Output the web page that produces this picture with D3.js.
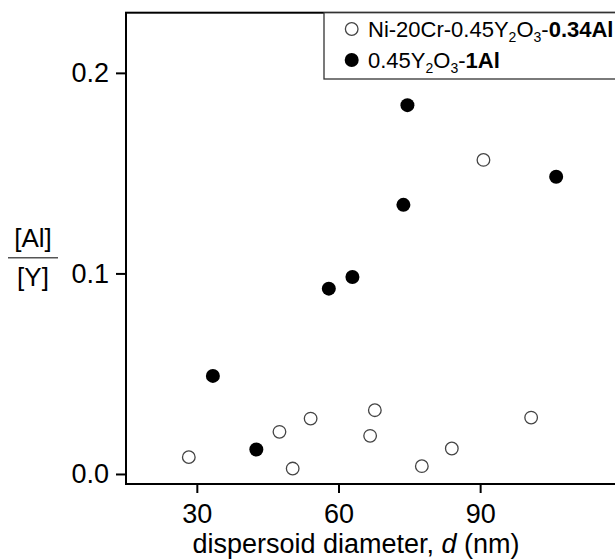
<!DOCTYPE html>
<html>
<head>
<meta charset="utf-8">
<script src="https://cdn.jsdelivr.net/npm/d3@7"></script>
<style>
    body { margin: 0; background: #fff; }
    text { font-family: "Liberation Sans", Arial, sans-serif; fill: #000; }
</style>
</head>
<body>
<script>
// Al/Y ratio against dispersoid diameter, two alloys

// open circles: Ni-20Cr-0.45Y2O3-0.34Al
var openD     = [28.3, 47.5, 50.3, 54.1, 66.7, 67.7, 77.65, 84.0, 90.7, 100.8];
var openRatio = [0.0084, 0.021, 0.0027, 0.0276, 0.019, 0.0318, 0.0039, 0.0127, 0.1566, 0.0281];

// filled circles: 0.45Y2O3-1Al
var fullD     = [33.4, 42.6, 57.95, 62.95, 73.75, 74.6, 106.1];
var fullRatio = [0.0489, 0.0122, 0.0924, 0.0982, 0.1342, 0.1839, 0.1482];

var xTicks = [30, 60, 90];
var yTicks = [0.0, 0.1, 0.2];

var width = 615,
    height = 560;

var svg = d3.select("body").append("svg")
    .attr("width", width)
    .attr("height", height);

// plot area runs off the right edge of the picture
var x = d3.scaleLinear().domain([15, 120]).range([126, 621.8]);
var y = d3.scaleLinear().domain([-0.005, 0.23]).range([484, 12.7]);

var xAxis = d3.axisBottom(x).tickValues(xTicks).tickSize(9).tickPadding(11)
    .tickFormat(d3.format("d"));
var yAxis = d3.axisLeft(y).tickValues(yTicks).tickSize(10).tickPadding(7)
    .tickFormat(d3.format(".1f"));

var gx = svg.append("g")
    .attr("transform", "translate(0," + y.range()[0] + ")")
    .call(xAxis);
var gy = svg.append("g")
    .attr("transform", "translate(" + x.range()[0] + ",0)")
    .call(yAxis);

[gx, gy].forEach(function(g) {
    g.select(".domain").remove();
    g.selectAll(".tick line").style("stroke", "#000").style("stroke-width", "2px");
    g.selectAll(".tick text")
        .style("font-size", "27px")
        .style("font-family", "'Liberation Sans', Arial, sans-serif")
        .attr("fill", "#000");
});

// frame: left, top, bottom (right side is cut off)
svg.append("rect")
    .attr("x", x.range()[0])
    .attr("y", y.range()[1])
    .attr("width", 640 - x.range()[0])
    .attr("height", y.range()[0] - y.range()[1])
    .style("fill", "none")
    .style("stroke", "#000")
    .style("stroke-width", "2px");

// points
svg.selectAll(".open")
    .data(openD)
    .enter()
    .append("circle")
    .attr("class", "open")
    .attr("cx", function(d) { return x(d); })
    .attr("cy", function(d, i) { return y(openRatio[i]); })
    .attr("r", 6.3)
    .style("fill", "#fff")
    .style("stroke", "#444")
    .style("stroke-width", "1.3px");

svg.selectAll(".full")
    .data(fullD)
    .enter()
    .append("circle")
    .attr("class", "full")
    .attr("cx", function(d) { return x(d); })
    .attr("cy", function(d, i) { return y(fullRatio[i]); })
    .attr("r", 7)
    .style("fill", "#000");

// legend box
svg.append("rect")
    .attr("x", 324)
    .attr("y", y.range()[1])
    .attr("width", 320)
    .attr("height", 79 - y.range()[1])
    .style("fill", "#fff")
    .style("stroke", "#333")
    .style("stroke-width", "1.3px");

svg.append("circle")
    .attr("cx", 351.7).attr("cy", 29).attr("r", 6.3)
    .style("fill", "#fff").style("stroke", "#444").style("stroke-width", "1.3px");
svg.append("circle")
    .attr("cx", 351.7).attr("cy", 60).attr("r", 7)
    .style("fill", "#000");

function legendText(yPos, parts) {
    var t = svg.append("text")
        .attr("x", 368)
        .attr("y", yPos)
        .style("font-size", "22px");
    parts.forEach(function(p) {
        var s = t.append("tspan").text(p[0]);
        if (p[1] == "sub") {
            s.style("font-size", "14px").attr("dy", 5);
        } else if (p[1] == "up") {
            s.attr("dy", -5);
        } else if (p[1] == "bold") {
            s.style("font-weight", "bold");
        }
    });
}

legendText(37, [["Ni-20Cr-0.45Y"], ["2", "sub"], ["O", "up"], ["3", "sub"],
    ["-", "up"], ["0.34Al", "bold"]]);
legendText(68, [["0.45Y"], ["2", "sub"], ["O", "up"], ["3", "sub"],
    ["-", "up"], ["1Al", "bold"]]);

// y label as a fraction
svg.append("text")
    .text("[Al]")
    .attr("x", 33)
    .attr("y", 247)
    .attr("text-anchor", "middle")
    .style("font-size", "26px");
svg.append("line")
    .attr("x1", 8).attr("x2", 58)
    .attr("y1", 257.7).attr("y2", 257.7)
    .style("stroke", "#555")
    .style("stroke-width", "1.5px");
svg.append("text")
    .text("[Y]")
    .attr("x", 33)
    .attr("y", 286)
    .attr("text-anchor", "middle")
    .style("font-size", "26px");

// x label
var xt = svg.append("text")
    .attr("x", 356)
    .attr("y", 553)
    .attr("text-anchor", "middle")
    .style("font-size", "27px");
xt.append("tspan").text("dispersoid diameter, ");
xt.append("tspan").text("d").style("font-style", "italic");
xt.append("tspan").text(" (nm)");
</script>
</body>
</html>
